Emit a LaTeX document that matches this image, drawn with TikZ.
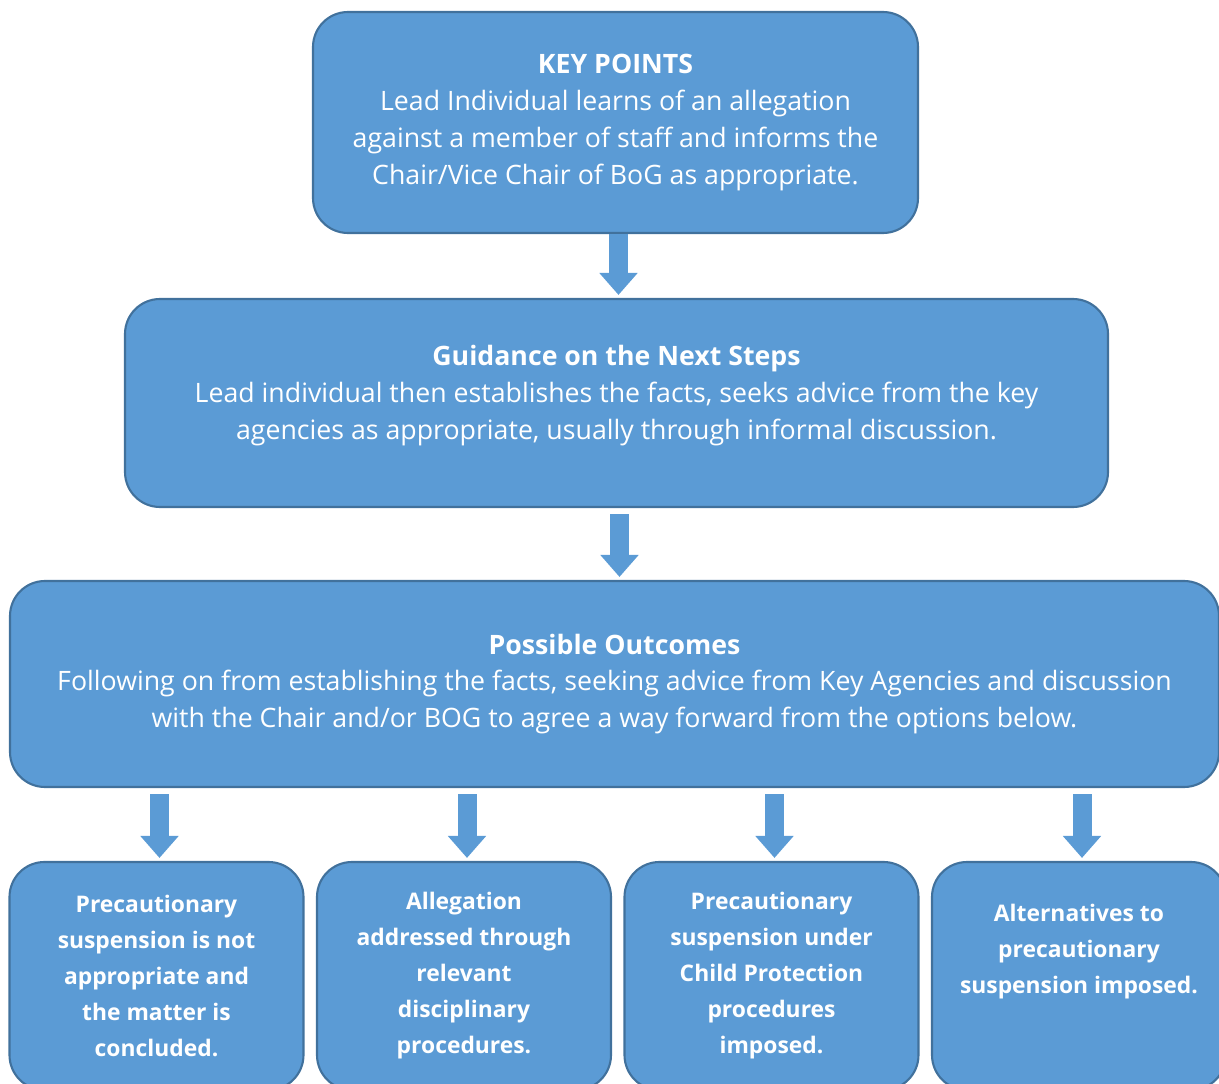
\documentclass[tikz,border=0pt]{standalone}
\usepackage{fontspec}
\setmainfont{Open Sans}
\usetikzlibrary{arrows.meta}
\definecolor{boxblue}{HTML}{5B9BD5}
\definecolor{boxline}{HTML}{41719C}

\begin{document}
\begin{tikzpicture}[
    box/.style={rectangle, rounded corners=0.7cm, draw=boxline, line width=1.2pt, fill=boxblue, text=white, align=center, font=\fontsize{15.2}{21}\selectfont},
    outbox/.style={box, minimum width=5.88cm, minimum height=4.56cm, font=\bfseries\fontsize{13}{20.5}\selectfont},
    fatarrow/.style={draw=boxblue, line width=0.38cm, -{Triangle[width=0.74cm, length=0.44cm]}, transform canvas={xshift=0.06cm}}
]
    \useasboundingbox (0,0) rectangle (24.38,-21.68);
    \clip (0,0) rectangle (24.38,-21.68);

    \node[box, minimum width=12.1cm, minimum height=4.42cm] (key) at (12.31,-2.45) {\textbf{KEY POINTS}\\Lead Individual learns of an allegation\\against a member of staff and informs the\\Chair/Vice Chair of BoG as appropriate.};
    \node[box, minimum width=19.66cm, minimum height=4.16cm] (guide) at (12.33,-8.06) {\textbf{Guidance on the Next Steps}\\Lead individual then establishes the facts, seeks advice from the key\\agencies as appropriate, usually through informal discussion.\\[-0.3cm]~};
    \node[box, minimum width=24.18cm, minimum height=4.12cm] (outc) at (12.29,-13.68) {\textbf{Possible Outcomes}\\Following on from establishing the facts, seeking advice from Key Agencies and discussion\\with the Chair and/or BOG to agree a way forward from the options below.};

    \node[outbox] (out1) at (3.13,-19.52) {Precautionary\\suspension is not\\appropriate and\\the matter is\\concluded.};
    \node[outbox, xshift=6.15cm] (out2) at (out1) {Allegation\\addressed through\\relevant\\disciplinary\\procedures.};
    \node[outbox, xshift=6.15cm] (out3) at (out2) {Precautionary\\suspension under\\Child Protection\\procedures\\imposed.};
    \node[outbox, xshift=6.15cm] (out4) at (out3) {Alternatives to\\precautionary\\suspension imposed.\\[0.36cm]~};

    \draw[fatarrow, shorten >=0.06cm] (key.south) -- (key.south |- guide.north);
    \draw[fatarrow, shorten <=0.12cm, shorten >=0.06cm] (guide.south) -- (guide.south |- outc.north);
    \draw[fatarrow, shorten <=0.12cm, shorten >=0.06cm] (outc.south -| out1.north) -- (out1.north);
    \draw[fatarrow, shorten <=0.12cm, shorten >=0.06cm] (outc.south -| out2.north) -- (out2.north);
    \draw[fatarrow, shorten <=0.12cm, shorten >=0.06cm] (outc.south -| out3.north) -- (out3.north);
    \draw[fatarrow, shorten <=0.12cm, shorten >=0.06cm] (outc.south -| out4.north) -- (out4.north);
\end{tikzpicture}
\end{document}
